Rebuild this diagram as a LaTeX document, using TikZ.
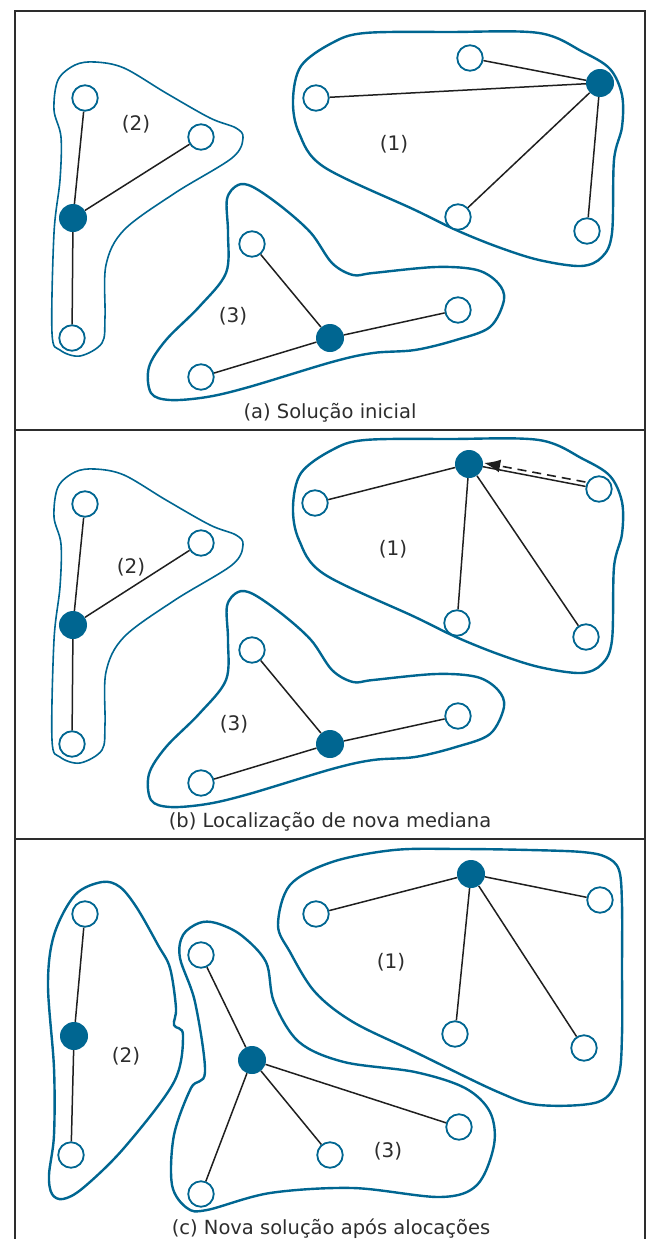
\documentclass[tikz,border=0pt]{standalone}
\usepackage{fontspec}
\setmainfont{DejaVu Sans}
\usetikzlibrary{arrows.meta}
\definecolor{blob}{RGB}{0,102,145}
\definecolor{ink}{RGB}{45,45,45}
\tikzset{
 open/.style={circle, draw=blob, line width=1.8pt, fill=white, minimum size=25.5pt, inner sep=0pt},
 med/.style={circle, fill=blob, minimum size=28pt, inner sep=0pt},
 edge/.style={line width=1.5pt, draw=black!88},
 region/.style={draw=blob, line width=2.4pt},
 thinregion/.style={draw=blob, line width=1.6pt},
 lbl/.style={font=\fontsize{20}{20}\selectfont, text=ink},
 captxt/.style={font=\fontsize{19.5}{19.5}\selectfont, text=ink},
 frame/.style={draw=ink, line width=2.2pt},
 mover/.style={line width=1.6pt, draw=black!88, dash pattern=on 9pt off 6pt, -{Latex[length=16pt,width=13pt]}}
}
\begin{document}
\begin{tikzpicture}[x=1pt,y=-1pt]
\useasboundingbox (0,0) rectangle (648,1239);
% frame
\draw[frame] (15,1239) -- (15,11) -- (645,11) -- (645,1239);
\draw[frame] (15,430) -- (645,430);
\draw[frame] (15,839) -- (645,839);

% ---------- regions (a) and (b) ----------
\foreach \dy in {0,407}{
\begin{scope}[shift={(0,\dy)}]
\draw[thinregion] plot[smooth cycle, tension=0.55] coordinates {
 (95,62) (124,68) (166,93) (210,118) (236,128) (243,138) (232,158) (175,193)
 (124,230) (106,265) (105,317) (102,343) (80,356) (60,350) (52,333) (54,233)
 (60,180) (61,137) (54,110) (58,80) (75,65)};
\draw[region] plot[smooth cycle, tension=0.55] coordinates {
 (332,43) (365,33) (450,32) (539,33) (583,52) (610,69) (622,95) (622,127) (614,160)
 (612,233) (602,257) (581,266) (539,260) (498,247) (456,230) (415,210)
 (324,167) (299,133) (293,100) (301,66)};
\draw[region] plot[smooth cycle, tension=0.55] coordinates {
 (238,185) (227,199) (228,233) (226,273) (199,307) (166,340) (149,367)
 (151,393) (170,400) (207,397) (249,387) (332,362) (373,353) (415,350)
 (456,340) (490,327) (504,300) (498,283) (477,270) (436,267) (373,273)
 (353,275) (332,263) (311,233) (282,207) (253,187)};
\end{scope}}

% ---------- regions (c) ----------
\draw[region] plot[smooth cycle, tension=0.55] coordinates {
 (102,882) (75,895) (54,935) (48,985) (54,1068) (54,1135) (49,1175) (52,1194) (63,1199)
 (83,1188) (124,1148) (174,1082) (183,1035) (174,1025) (176,1008) (170,968)
 (158,945) (137,908) (120,887)};
\draw[region] plot[smooth cycle, tension=0.55] coordinates {
 (199,923) (183,935) (180,958) (195,1002) (205,1072) (191,1088) (174,1135)
 (172,1185) (187,1208) (207,1210) (270,1193) (353,1188) (440,1197) (477,1185)
 (494,1145) (490,1112) (465,1088) (415,1072) (344,1062) (299,1042) (274,1002)
 (266,962) (241,935) (216,923)};
\draw[region] plot[smooth cycle, tension=0.55] coordinates {
 (290,885) (332,862) (394,850) (460,849) (530,850) (582,852) (606,857) (619,870)
 (622,905) (622,970) (622,1035)
 (618,1078) (598,1102) (539,1105) (498,1092) (415,1052) (353,1022) (315,992)
 (290,952) (278,925)};

% ---------- panel (a) ----------
\node[open] (a2a) at (85,98) {};
\node[open] (a2b) at (201,137) {};
\node[med] (a2m) at (73,218) {};
\node[open] (a2c) at (72,338) {};
\node[open] (a1a) at (316,98) {};
\node[open] (a1b) at (470,58) {};
\node[med] (a1m) at (600,83) {};
\node[open] (a1c) at (458,217) {};
\node[open] (a1d) at (587,231) {};
\node[open] (a3a) at (252,244) {};
\node[med] (a3m) at (330,338) {};
\node[open] (a3b) at (458,310) {};
\node[open] (a3c) at (201,377) {};
\draw[edge] (a2m) -- (a2a);
\draw[edge] (a2m) -- (a2b);
\draw[edge] (a2m) -- (a2c);
\draw[edge] (a1m) -- (a1a);
\draw[edge] (a1m) -- (a1b);
\draw[edge] (a1m) -- (a1c);
\draw[edge] (a1m) -- (a1d);
\draw[edge] (a3m) -- (a3a);
\draw[edge] (a3m) -- (a3b);
\draw[edge] (a3m) -- (a3c);
\node[lbl] (la2) at (136,124) {(2)};
\node[lbl] (la1) at (394,144) {(1)};
\node[lbl] (la3) at (233,316) {(3)};
\node[captxt] (capa) at (330,413) {(a) Solução inicial};

% ---------- panel (b) ----------
\node[open] (b2a) at (85,504) {};
\node[open] (b2b) at (201,543) {};
\node[med] (b2m) at (73,625) {};
\node[open] (b2c) at (72,744) {};
\node[med] (b1m) at (469,464) {};
\node[open] (b1a) at (315,503) {};
\node[open] (b1b) at (599,489) {};
\node[open] (b1c) at (457,623) {};
\node[open] (b1d) at (586,637) {};
\node[open] (b3a) at (252,650) {};
\node[med] (b3m) at (330,744) {};
\node[open] (b3b) at (458,716) {};
\node[open] (b3c) at (201,783) {};
\draw[edge] (b2m) -- (b2a);
\draw[edge] (b2m) -- (b2b);
\draw[edge] (b2m) -- (b2c);
\draw[edge] (b1m) -- (b1a);
\draw[edge] (b1m) -- (b1b);
\draw[edge] (b1m) -- (b1c);
\draw[edge] (b1m) -- (b1d);
\draw[edge] (b3m) -- (b3a);
\draw[edge] (b3m) -- (b3b);
\draw[edge] (b3m) -- (b3c);
\draw[mover] ([shift={(0,-7)}]b1b.west) -- ([shift={(1,-1)}]b1m.east);
\node[lbl] (lb2) at (131,567) {(2)};
\node[lbl] (lb1) at (393,549) {(1)};
\node[lbl] (lb3) at (234,724) {(3)};
\node[captxt] (capb) at (330,822) {(b) Localização de nova mediana};

% ---------- panel (c) ----------
\node[open] (c2a) at (85,914) {};
\node[med] (c2m) at (74,1036) {};
\node[open] (c2c) at (71,1155) {};
\node[med] (c1m) at (471,874) {};
\node[open] (c1a) at (316,914) {};
\node[open] (c1b) at (600,900) {};
\node[open] (c1c) at (455,1034) {};
\node[open] (c1d) at (584,1048) {};
\node[med] (c3m) at (252,1060) {};
\node[open] (c3a) at (201,955) {};
\node[open] (c3b) at (459,1127) {};
\node[open] (c3c) at (330,1155) {};
\node[open] (c3d) at (201,1194) {};
\draw[edge] (c2m) -- (c2a);
\draw[edge] (c2m) -- (c2c);
\draw[edge] (c1m) -- (c1a);
\draw[edge] (c1m) -- (c1b);
\draw[edge] (c1m) -- (c1c);
\draw[edge] (c1m) -- (c1d);
\draw[edge] (c3m) -- (c3a);
\draw[edge] (c3m) -- (c3b);
\draw[edge] (c3m) -- (c3c);
\draw[edge] (c3m) -- (c3d);
\node[lbl] (lc2) at (126,1056) {(2)};
\node[lbl] (lc1) at (391,962) {(1)};
\node[lbl] (lc3) at (388,1151) {(3)};
\node[captxt] (capc) at (331,1229) {(c) Nova solução após alocações};
\end{tikzpicture}
\end{document}
